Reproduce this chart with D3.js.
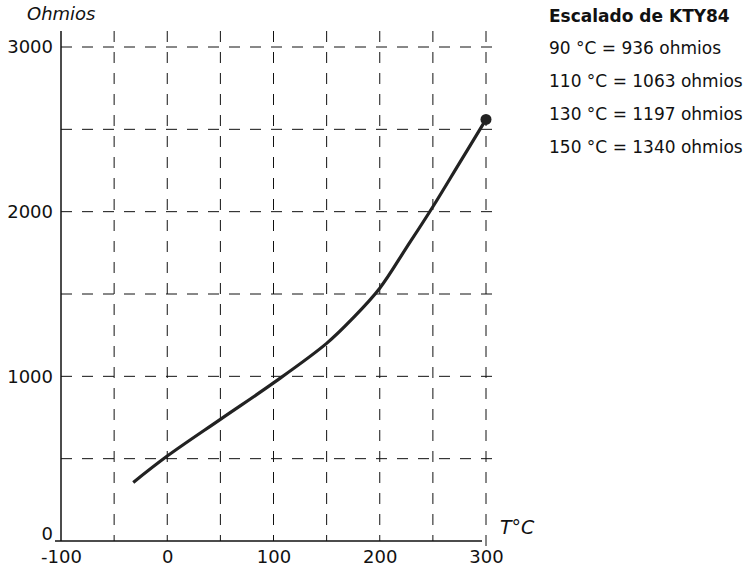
<!DOCTYPE html>
<html>
<head>
<meta charset="utf-8">
<script src="https://cdn.jsdelivr.net/npm/d3@7"></script>
<style>
  body { margin: 0; background: #fff; }
  .axis text { font-family: "DejaVu Sans", sans-serif; font-size: 18px; fill: #111; }
  .axis path { stroke: #111; stroke-width: 1.5; }
  .grid line { stroke: #111; stroke-width: 1; stroke-dasharray: 11,10; }
  .legend text { font-family: "DejaVu Sans", sans-serif; font-size: 17px; fill: #111; }
</style>
</head>
<body>
<div id="chart"></div>
<script>
const tempTicks = [-100, 0, 100, 200, 300];
const ohmTicks = [0, 1000, 2000, 3000];
const gridTemps = [-50, 0, 50, 100, 150, 200, 250, 300];
const gridOhms = [500, 1000, 1500, 2000, 2500, 3000];

// curve
const temps = [-32, 0, 50, 100, 150, 175, 200, 225, 250, 275, 300];
const ohms = [356, 516, 739, 960, 1200, 1355, 1535, 1780, 2030, 2295, 2560];

const legendTitle = 'Escalado de KTY84';
const legendLines = ['90 °C = 936 ohmios', '110 °C = 1063 ohmios', '130 °C = 1197 ohmios', '150 °C = 1340 ohmios'];

const width = 750, height = 567;

const svg = d3.select('#chart').append('svg')
    .attr('width', width)
    .attr('height', height);

const xScale = d3.scaleLinear().domain([-100, 300]).range([61, 486]);
const yScale = d3.scaleLinear().domain([0, 3000]).range([541, 47]);

// grid
svg.append('g').attr('class', 'grid')
  .selectAll('line.v')
  .data(gridTemps)
  .enter().append('line')
    .attr('x1', d => xScale(d)).attr('x2', d => xScale(d))
    .attr('y1', 31).attr('y2', d => d === 300 ? 547 : yScale(0));

svg.append('g').attr('class', 'grid')
  .selectAll('line.h')
  .data(gridOhms)
  .enter().append('line')
    .attr('x1', xScale(-100)).attr('x2', 497)
    .attr('y1', d => yScale(d)).attr('y2', d => yScale(d));

// axes
const xAxis = d3.axisBottom(xScale)
    .tickValues(tempTicks)
    .tickFormat(d => String(d))
    .tickSize(0)
    .tickPadding(9);

svg.append('g')
    .attr('class', 'axis x-axis')
    .attr('transform', `translate(0,${yScale(0)})`)
    .call(xAxis)
    .call(g => g.select('.domain').attr('d', `M${xScale(-100) - 6},0H${xScale(300) - 4}`));

const yAxis = d3.axisLeft(yScale)
    .tickValues(ohmTicks)
    .tickFormat(d => String(d))
    .tickSize(0)
    .tickPadding(8);

svg.append('g')
    .attr('class', 'axis y-axis')
    .attr('transform', `translate(${xScale(-100)},0)`)
    .call(yAxis)
    .call(g => g.select('.domain').attr('d', `M0,31V${yScale(0)}`))
    .call(g => g.selectAll('.tick').filter(d => d === 0).select('text').attr('dy', '-0.08em'));

svg.append('text')
    .attr('x', 27).attr('y', 20)
    .attr('font-family', 'DejaVu Sans, sans-serif')
    .attr('font-style', 'italic')
    .attr('font-size', 18)
    .attr('fill', '#111')
    .text('Ohmios');

svg.append('text')
    .attr('x', 500).attr('y', 534)
    .attr('font-family', 'DejaVu Sans, sans-serif')
    .attr('font-style', 'italic')
    .attr('font-size', 19)
    .attr('fill', '#111')
    .text('T°C');

// curve
const points = temps.map((t, i) => [t, ohms[i]]);
const line = d3.line()
    .x(d => xScale(d[0]))
    .y(d => yScale(d[1]))
    .curve(d3.curveCatmullRom.alpha(0.5));

svg.append('path')
    .datum(points)
    .attr('d', line)
    .attr('fill', 'none')
    .attr('stroke', '#222')
    .attr('stroke-width', 3.2);

const last = points[points.length - 1];
svg.append('circle')
    .attr('cx', xScale(last[0]))
    .attr('cy', yScale(last[1]))
    .attr('r', 5.5)
    .attr('fill', '#222');

// legend
const legend = svg.append('g').attr('class', 'legend');
legend.append('text')
    .attr('x', 549).attr('y', 22)
    .attr('font-weight', 'bold')
    .attr('font-size', 20)
    .text(legendTitle);
legend.selectAll('text.item')
    .data(legendLines)
    .enter().append('text')
    .attr('class', 'item')
    .attr('x', 549)
    .attr('y', (d, i) => 54 + i * 33)
    .text(d => d);
</script>
</body>
</html>
